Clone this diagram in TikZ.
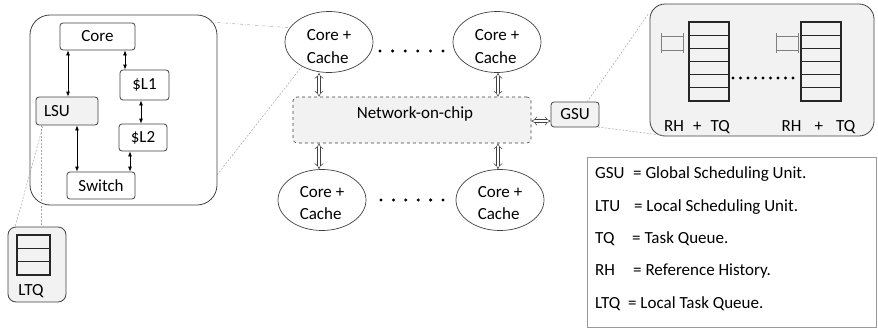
\documentclass[tikz,border=0pt]{standalone}
\usepackage{fontspec}
\setmainfont{Carlito}
\usetikzlibrary{arrows.meta,shapes.geometric}

\definecolor{panel}{HTML}{F2F2F2}
\definecolor{edge}{HTML}{404040}

\tikzset{
  unit/.style={draw=edge, rounded corners=3pt, line width=0.8pt, inner sep=0pt},
  biarrow/.style={line width=0.8pt, {Latex[length=5pt,width=4pt]}-{Latex[length=5pt,width=4pt]}},
  dblarrow/.style={draw=edge, line width=0.5pt, double=white, double distance=2.6pt,
                   {Implies}-{Implies}},
  core/.style={ellipse, draw=edge, line width=0.7pt, minimum width=88pt, minimum height=61pt, inner sep=0pt},
  ctext/.style={align=left, inner sep=0pt},
  zoomline/.style={draw=gray!70, line width=0.5pt, dash pattern=on 2pt off 1.5pt},
  zoomdot/.style={draw=gray!70, line width=0.5pt, dash dot},
  dotmark/.style={circle, fill=black, inner sep=0pt, minimum size=3.3pt},
  qcell/.style={draw=black!85, line width=1.2pt},
  rhmark/.style={draw=black!50, line width=1pt},
}

\begin{document}
\begin{tikzpicture}[x=1pt, y=-1pt, font=\fontsize{17}{22.5}\selectfont]
\useasboundingbox (0,0) rectangle (878,332);

% ---------- processing tile ----------
\node[draw=edge, line width=0.8pt, rounded corners=20pt, minimum width=187pt, minimum height=190pt, inner sep=0pt] (tile) at (123.5,110) {};
\node[unit, minimum width=75pt, minimum height=27pt] (corebox) at (97.5,36.5) {Core};
\node[unit, minimum width=49pt, minimum height=30pt] (l1) at (144.5,85) {\$L1};
\node[unit, fill=panel, text width=46pt, align=left, inner xsep=8pt, minimum height=28pt] (lsu) at (67,111) {LSU};
\node[unit, minimum width=48pt, minimum height=27pt] (l2) at (143,137.5) {\$L2};
\node[unit, minimum width=68pt, minimum height=27pt] (switch) at (101,185.5) {Switch};

\draw[biarrow] (corebox.south -| 68,0) -- (lsu.north -| 68,0);
\draw[biarrow] (corebox.south -| 125,0) -- (l1.north -| 125,0);
\draw[biarrow] (l1.south -| 141,0) -- (l2.north -| 141,0);
\draw[biarrow] (lsu.south -| 77,0) -- (switch.north -| 77,0);
\draw[biarrow] (l2.south -| 130,0) -- (switch.north -| 130,0);

% ---------- local task queue ----------
\node[draw=edge, line width=0.8pt, rounded corners=8pt, fill=panel, minimum width=58pt, minimum height=75pt, inner sep=0pt] (ltqbox) at (37,264.5) {};
\draw[qcell] (17,235) rectangle (50,275);
\draw[qcell] (17,248.3) -- (50,248.3) (17,261.7) -- (50,261.7);
\node (ltqlabel) at (31,291) {LTQ};

\coordinate (lsuA) at (43,126);
\coordinate (lsuB) at (41,125);
\coordinate (ltqA) at (15,227);
\coordinate (ltqB) at (41,227);
\draw[zoomline] (lsuA) -- (ltqA);
\draw[zoomline] (lsuB) -- (ltqB);

% ---------- cores ----------
\node[core] (tl) at (329,42) {};
\node[core] (tr) at (497,42) {};
\node[core] (bl) at (322,200) {};
\node[core] (br) at (500,200) {};
\node[ctext] at (tl.center) [yshift=-4.5pt] {Core +\\Cache};
\node[ctext] at (tr.center) [yshift=-4.5pt] {Core +\\Cache};
\node[ctext] at (bl.center) [yshift=-3pt] {Core +\\Cache};
\node[ctext] at (br.center) [yshift=-3pt] {Core +\\Cache};

\foreach \i in {0,...,5} {
  \node[dotmark] at (380+12.6*\i,51) {};
  \node[dotmark] at (381+12.4*\i,200) {};
}

% tile zoom connectors
\coordinate (tileA) at (210,22);
\coordinate (tileB) at (217,175);
\draw[zoomdot] (tileA) -- (tl.160);
\draw[zoomline] (tileB) -- (tl.222);

% ---------- network-on-chip ----------
\node[draw=edge, dashed, line width=0.6pt, rounded corners=4pt, fill=panel, minimum width=238pt, minimum height=46pt, inner sep=0pt] (noc) at (412,120) {};
\node at (415,114) {Network-on-chip};

\draw[dblarrow] (tl.south -| 319,0) -- (noc.north -| 319,0);
\draw[dblarrow] (tr.south -| 498,0) -- (noc.north -| 498,0);
\draw[dblarrow] (bl.north -| 319,0) -- (noc.south -| 319,0);
\draw[dblarrow] (br.north -| 498,0) -- (noc.south -| 498,0);

% ---------- global scheduling unit ----------
\node[unit, fill=panel, minimum width=48pt, minimum height=25pt] (gsu) at (575,114.5) {GSU};
\draw[dblarrow] (noc.east |- 0,121) -- (gsu.west |- 0,121);

\node[draw=edge, line width=0.8pt, rounded corners=15pt, fill=panel, minimum width=224pt, minimum height=132pt, inner sep=0pt] (gsubox) at (762,70) {};

\foreach \x in {689,801} {
  \draw[qcell] (\x,22) rectangle (\x+40,101);
  \foreach \k in {1,...,5}
    \draw[qcell] (\x,22+13.17*\k) -- (\x+40,22+13.17*\k);
}
\foreach \x in {661,776} {
  \draw[rhmark] (\x,33) -- (\x,53) (\x+22,33) -- (\x+22,53)
                (\x,36) -- (\x+22,36) (\x,50) -- (\x+22,50);
}
\foreach \i in {0,...,8}
  \node[dotmark] at (733+7.5*\i,78) {};

\node at (697,127) {RH\hspace{9pt}+\hspace{9pt}TQ};
\node at (818.5,127) {RH\hspace{13pt}+\hspace{13pt}TQ};

\coordinate (gsuA) at (587,102);
\coordinate (gsuB) at (598,127);
\coordinate (boxA) at (649,13);
\coordinate (boxB) at (668,136);
\draw[zoomline] (gsuA) -- (boxA);
\draw[zoomline] (gsuB) -- (boxB);

% ---------- legend ----------
\node[draw=gray!80, line width=0.8pt, minimum width=289pt, minimum height=170pt, inner sep=0pt] (legend) at (731.5,242) {};
\begin{scope}[every node/.style={anchor=base west, inner sep=0pt}]
  \node at (595,178.5) {\makebox[38pt][l]{GSU}= Global Scheduling Unit.};
  \node at (595,211.5) {\makebox[39pt][l]{LTU}= Local Scheduling Unit.};
  \node at (595,243.5) {\makebox[37pt][l]{TQ}= Task Queue.};
  \node at (595,275.5) {\makebox[38pt][l]{RH}= Reference History.};
  \node at (595,308) {\makebox[33pt][l]{LTQ}= Local Task Queue.};
\end{scope}
\end{tikzpicture}
\end{document}
